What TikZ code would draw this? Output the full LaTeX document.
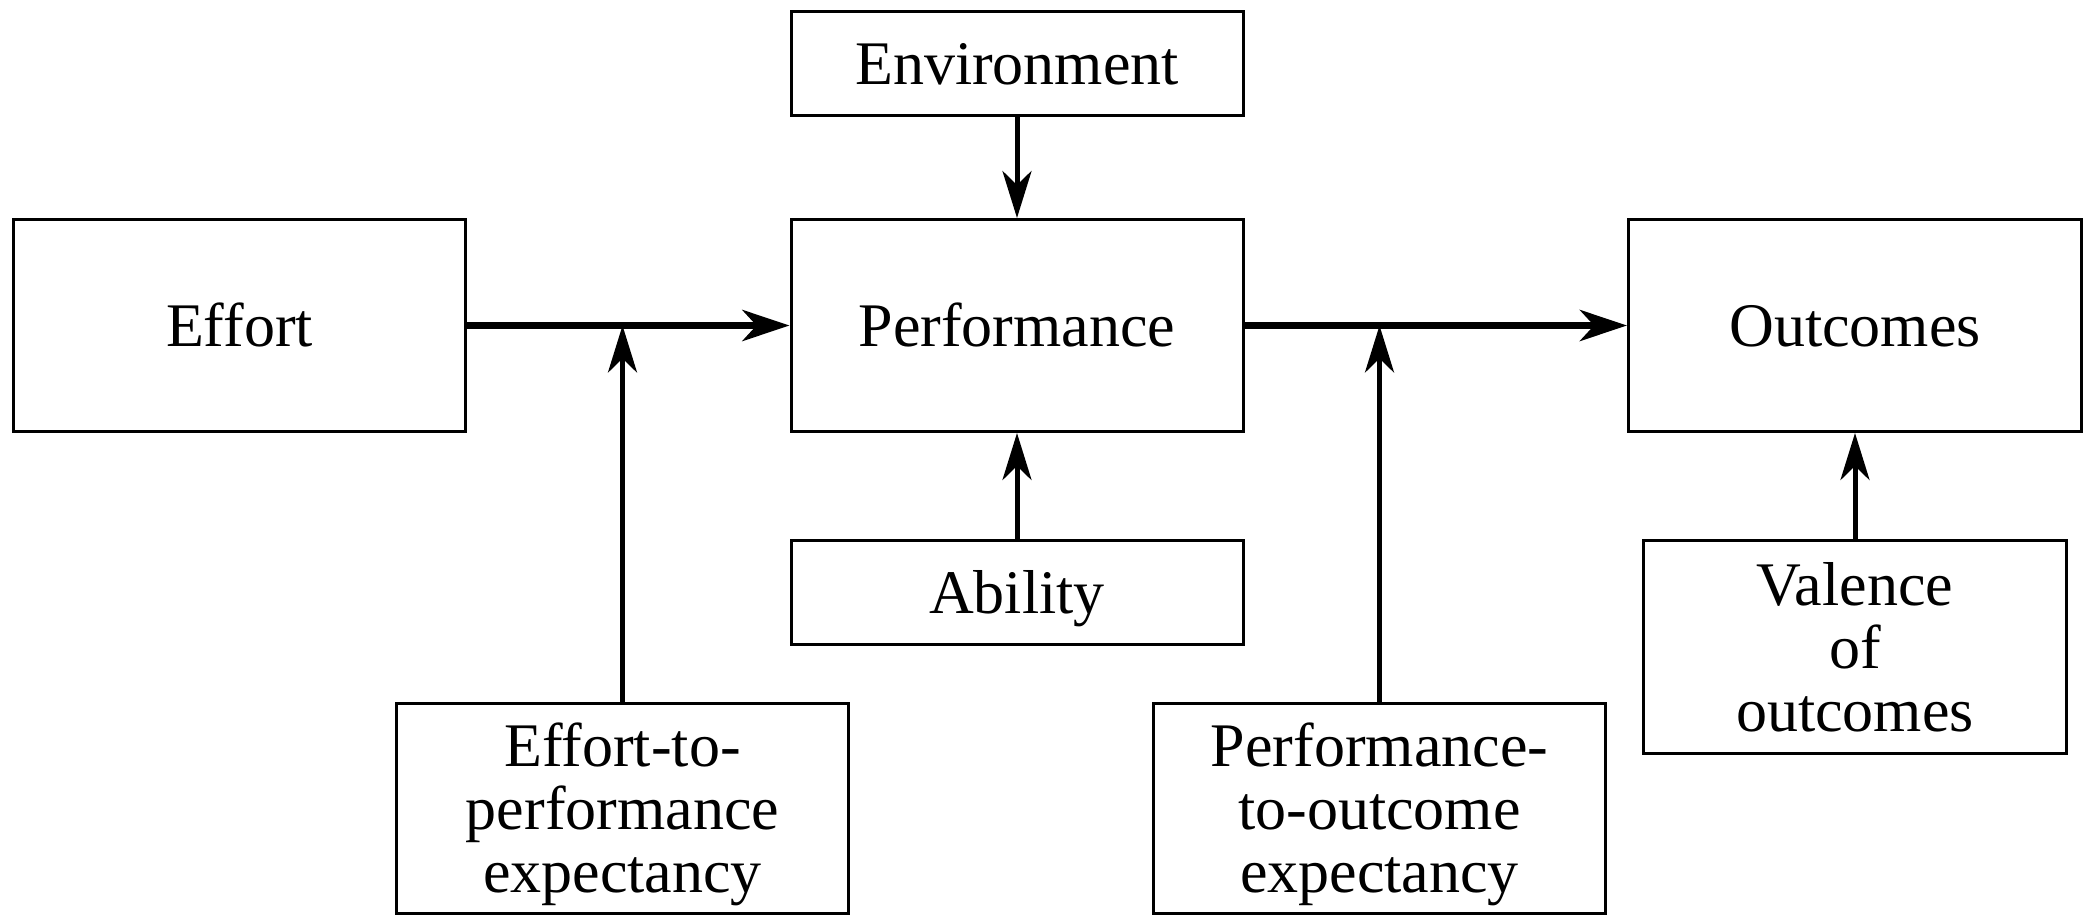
\documentclass[tikz,border=0pt]{standalone}
\usepackage{fontspec}
\setmainfont{Liberation Serif}
\usetikzlibrary{arrows.meta}
\begin{document}
\begin{tikzpicture}[x=1pt,y=-1pt,
  box/.style={draw, line width=3pt, inner sep=0pt, align=center, text depth=0pt,
    font=\fontsize{62}{63}\selectfont},
  one/.style={text height=41pt},
  mainarrow/.style={line width=7pt, -{Stealth[length=47pt,width=31pt,inset=14pt]}},
  sidearrow/.style={line width=5pt, -{Stealth[length=47pt,width=29pt,inset=14pt]}},
]
\useasboundingbox (0,0) rectangle (2089,916);
\node[box,one,minimum width=452pt,minimum height=104pt] (env) at (1017,63.5) {Environment};
\node[box,one,minimum width=452pt,minimum height=212pt] (effort) at (239.5,325.5) {Effort};
\node[box,one,minimum width=452pt,minimum height=212pt] (perf) at (1017,325.5) {Performance};
\node[box,one,minimum width=453pt,minimum height=212pt] (outcomes) at (1855,325.5) {Outcomes};
\node[box,one,minimum width=452pt,minimum height=104pt] (ability) at (1017,592.5) {Ability};
\node[box,minimum width=452pt,minimum height=210pt] (e2p) at (622.5,808) {Effort-to-\\performance\\expectancy};
\node[box,minimum width=452pt,minimum height=210pt] (p2o) at (1379.5,808) {Performance-\\to-outcome\\expectancy};
\node[box,minimum width=423pt,minimum height=213pt] (valence) at (1855,647) {Valence\\of\\outcomes};
\draw[mainarrow] (effort.east) -- (perf.west);
\draw[mainarrow] (perf.east) -- (outcomes.west);
\draw[sidearrow] (env.south) -- (perf.north);
\draw[sidearrow] (ability.north) -- (perf.south);
\draw[sidearrow] (valence.north) -- (outcomes.south);
\draw[sidearrow] (e2p.north) -- (e2p.north |- effort.east);
\draw[sidearrow] (p2o.north) -- (p2o.north |- perf.east);
\end{tikzpicture}
\end{document}
